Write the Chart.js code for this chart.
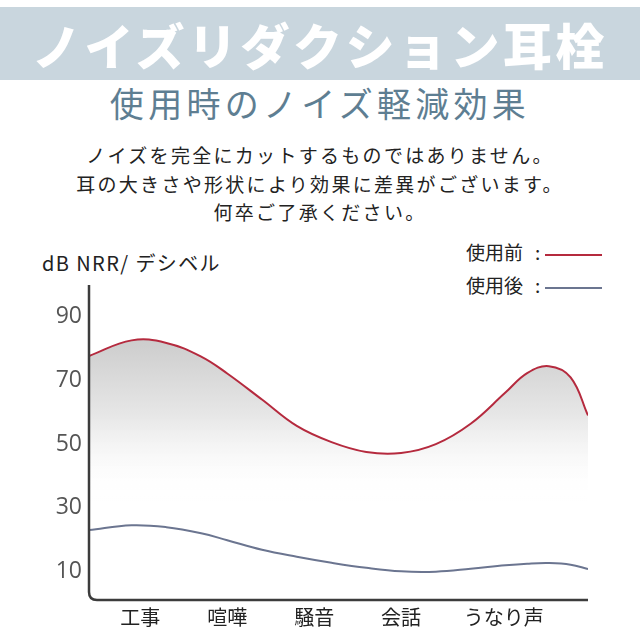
<!DOCTYPE html>
<html>
<head>
<meta charset="utf-8">
<script src="https://cdn.jsdelivr.net/npm/chart.js@4/dist/chart.umd.min.js"></script>
<style>
  body { margin: 0; width: 640px; height: 640px; background: #fff; position: relative; overflow: hidden;
         font-family: "Noto Sans CJK JP", "Noto Sans", sans-serif; }
  .band { position: absolute; left: 0; top: 7px; width: 640px; height: 73px; background: #c9d6de; }
  .band h1 { margin: 0; color: #fff; font-size: 49px; font-weight: 900; letter-spacing: 3.5px;
             text-align: center; line-height: 73px; }
  .sub { position: absolute; left: 0; top: 82px; width: 640px; text-align: center; color: #5e7e92;
         font-size: 34px; letter-spacing: 4.3px; line-height: 42px; }
  .desc { position: absolute; left: 0; top: 141px; width: 640px; text-align: center; color: #222;
          font-size: 19px; letter-spacing: 2.3px; line-height: 28.5px; }
  .ytitle { position: absolute; left: 42px; top: 248px; font-size: 20px; letter-spacing: 1.4px; color: #222; }
  .legend { position: absolute; left: 466px; top: 235px; font-size: 19px; color: #222; line-height: 33px; }
  .legend b { font-weight: normal; margin-left: 12px; }
  .legend span.ln { display: inline-block; width: 57px; height: 2px; vertical-align: middle; margin-left: 5px; }
  #wrap { position: absolute; left: 0; top: 240px; width: 640px; height: 400px; }
</style>
</head>
<body>
<div class="band"><h1>ノイズリダクション耳栓</h1></div>
<div class="sub">使用時のノイズ軽減効果</div>
<div class="desc">ノイズを完全にカットするものではありません。<br>耳の大きさや形状により効果に差異がございます。<br>何卒ご了承ください。</div>
<div class="ytitle">dB NRR/ デシベル</div>
<div class="legend">使用前<b>:</b><span class="ln" style="background:#b52a3e"></span><br>使用後<b>:</b><span class="ln" style="background:#6b7590"></span></div>
<div id="wrap"><canvas id="lineChart" width="640" height="400"></canvas></div>
<script>
    /*global Chart*/
    var categories = ["工事", "喧嘩", "騒音", "会話", "うなり声"];
    var categoryPos = [0, 1, 2, 3, 4.18];
    var yTicks = [10, 30, 50, 70, 90];
    // curve sample positions along the category axis (0 = 工事 ... 4 = うなり声)
    var samplePos = [-0.59, -0.1, 0.3, 0.7, 1.0, 1.4, 1.8, 2.2, 2.6, 3.0, 3.4, 3.8, 4.2, 4.45, 4.7, 4.95, 5.15];
    var beforeValues = [77.7, 82.6, 81.8, 77.5, 72.2, 64, 55.7, 50.6, 47.5, 47.2, 50, 56.4, 66.2, 72.3, 74.5, 71, 59];
    var afterValues = [23, 24.5, 23.9, 22, 19.8, 16.8, 14.6, 12.7, 11.1, 10, 9.9, 10.8, 11.9, 12.4, 12.6, 12.1, 10.7];

    function toPoints(vals) {
        return vals.map(function (v, i) { return {x: samplePos[i], y: v}; });
    }

    function fillGradient(context) {
        var chart = context.chart;
        var area = chart.chartArea;
        if (!area) return 'rgba(210,210,210,0.8)';
        var ys = chart.scales.y;
        var g = chart.ctx.createLinearGradient(0, ys.getPixelForValue(84), 0, ys.getPixelForValue(32));
        g.addColorStop(0, 'rgba(203,203,203,1)');
        g.addColorStop(0.5, 'rgba(232,232,232,1)');
        g.addColorStop(1, 'rgba(255,255,255,0)');
        return g;
    }

    // axis lines with a rounded bottom-left corner
    var axisPlugin = {
        id: 'axisLines',
        afterDraw: function (chart) {
            var a = chart.chartArea, c = chart.ctx, r = 8;
            c.save();
            c.strokeStyle = '#3c3c3c';
            c.lineWidth = 2.5;
            c.beginPath();
            c.moveTo(a.left, a.top);
            c.lineTo(a.left, a.bottom - r);
            c.quadraticCurveTo(a.left, a.bottom, a.left + r, a.bottom);
            c.lineTo(a.right, a.bottom);
            c.stroke();
            c.restore();
        }
    };

    var lineData = {
        datasets: [
            {
                label: "使用前",
                data: toPoints(beforeValues),
                borderColor: "#b52a3e",
                borderWidth: 2,
                backgroundColor: fillGradient,
                fill: 'origin',
                pointRadius: 0,
                tension: 0.4
            }, {
                label: "使用後",
                data: toPoints(afterValues),
                borderColor: "#6b7590",
                borderWidth: 2,
                fill: false,
                pointRadius: 0,
                tension: 0.4
            }
        ]
    };

    var lineOptions = {
        responsive: false,
        animation: false,
        layout: { padding: { top: 45, right: 52, left: 0, bottom: 0 } },
        plugins: {
            legend: { display: false },
            tooltip: { enabled: false },
            filler: { drawTime: 'beforeDatasetsDraw' }
        },
        scales: {
            x: {
                type: 'linear',
                min: -0.59, max: 5.15,
                grid: { display: false, drawTicks: false },
                border: { display: false },
                afterBuildTicks: function (s) { s.ticks = categoryPos.map(function (p) { return {value: p}; }); },
                afterFit: function (s) { s.height = 40; },
                ticks: {
                    padding: 5,
                    color: '#222',
                    font: { size: 20, family: '"Noto Sans CJK JP", sans-serif' },
                    callback: function (v) { return categories[categoryPos.indexOf(v)]; }
                }
            },
            y: {
                min: 1, max: 100,
                grid: { display: false, drawTicks: false },
                border: { display: false },
                afterBuildTicks: function (s) { s.ticks = yTicks.map(function (v) { return {value: v}; }); },
                afterFit: function (s) { s.width = 89; },
                ticks: {
                    padding: 7,
                    color: '#555',
                    font: { size: 23, family: '"Open Sans", sans-serif' }
                }
            }
        }
    };

    var ctx = document.getElementById("lineChart").getContext("2d");
    new Chart(ctx, {type: 'line', data: lineData, options: lineOptions, plugins: [axisPlugin]});
</script>
</body>
</html>
